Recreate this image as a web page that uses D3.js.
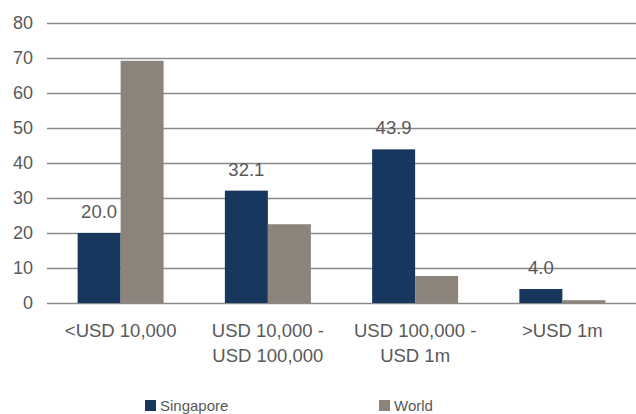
<!DOCTYPE html>
<html><head><meta charset="utf-8">
<script src="https://cdn.jsdelivr.net/npm/d3@7"></script>
<style>body{margin:0;background:#fff}svg{display:block;font-family:"Liberation Sans",Arial,sans-serif}</style>
</head><body><svg id="c" width="636" height="414"></svg>
<script>
const categories = [["<USD 10,000"],["USD 10,000 -","USD 100,000"],["USD 100,000 -","USD 1m"],[">USD 1m"]];
const seriesNames = ["Singapore","World"];
const singapore = [20.0, 32.1, 43.9, 4.0];
const world = [69.2, 22.5, 7.7, 0.8];
const yTicks = [0,10,20,30,40,50,60,70,80];
const colors = ["#17375E","#8C847B"];

(function(){
const svg = d3.select("#c");
const mL = 47, mR = 636, mT = 23, mB = 303;
const x = d3.scaleBand().domain(d3.range(categories.length)).range([mL, mR]);
const xs = d3.scaleBand().domain(seriesNames).range([0, 86]);
const y = d3.scaleLinear().domain([0, 80]).range([mB, mT]);

const yAxis = svg.append("g").attr("transform", `translate(${mL},0)`)
  .call(d3.axisLeft(y).tickValues(yTicks).tickSize(-(mR-mL)).tickPadding(14));
yAxis.select(".domain").remove();
yAxis.selectAll("line").attr("stroke", "#8a8a8a").attr("stroke-width", 1.5);
yAxis.selectAll("text").attr("fill", "#595959").style("font-size", "18px");

const data = [singapore, world];
const groups = svg.append("g");
categories.forEach((c, i) => {
  const g0 = x(i) + x.bandwidth()/2 - 43;
  seriesNames.forEach((s, j) => {
    const v = data[j][i];
    groups.append("rect").attr("x", g0 + xs(s)).attr("width", xs.bandwidth())
      .attr("y", y(v)).attr("height", y(0) - y(v)).attr("fill", colors[j]);
  });
  groups.append("text").attr("x", g0 + xs("Singapore") + xs.bandwidth()/2)
    .attr("y", y(singapore[i]) - 15).attr("text-anchor", "middle")
    .attr("fill", "#595959").style("font-size", "18.5px").text(singapore[i].toFixed(1));
  const t = svg.append("text").attr("text-anchor", "middle").attr("fill", "#595959").style("font-size", "18.5px");
  c.forEach((line, k) => t.append("tspan").attr("x", x(i) + x.bandwidth()/2).attr("y", 337 + k*25).text(line));
});

const legendX = [145, 379];
seriesNames.forEach((s, j) => {
  svg.append("rect").attr("x", legendX[j]).attr("y", 400).attr("width", 11).attr("height", 11).attr("fill", colors[j]);
  svg.append("text").attr("x", legendX[j] + 15).attr("y", 411).attr("fill", "#595959").style("font-size", "15px").text(s);
});
})();
</script></body></html>
